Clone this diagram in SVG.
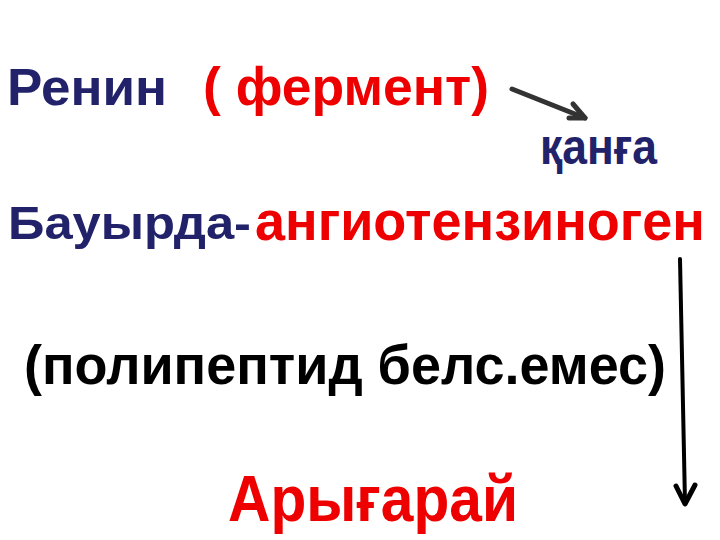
<svg xmlns="http://www.w3.org/2000/svg" width="720" height="540" viewBox="0 0 720 540">
<style>
text{font-family:"Liberation Sans",Arial,sans-serif;font-weight:bold}
.blue{fill:#22226a}
.red{fill:#ee0000}
.black{fill:#000}
.conn{fill:none;stroke-linecap:round;stroke-linejoin:round}
</style>
<rect width="720" height="540" fill="#fff"/>
<g id="renin">
<text class="blue" x="7" y="105" font-size="52" textLength="160" lengthAdjust="spacingAndGlyphs">Ренин</text>
</g>
<g id="ferment">
<text class="red" x="203" y="105" font-size="53" textLength="286" lengthAdjust="spacingAndGlyphs">( фермент)</text>
</g>
<g id="qanga">
<text class="blue" x="540" y="164" font-size="50" textLength="117" lengthAdjust="spacingAndGlyphs">қанға</text>
</g>
<g id="bauyrda">
<text class="blue" x="8" y="239" font-size="46" textLength="243" lengthAdjust="spacingAndGlyphs">Бауырда-</text>
</g>
<g id="angiotensinogen">
<text class="red" x="255" y="240" font-size="55" textLength="450" lengthAdjust="spacingAndGlyphs">ангиотензиноген</text>
</g>
<g id="polipeptid">
<text class="black" x="24" y="384" font-size="55" textLength="642" lengthAdjust="spacingAndGlyphs">(полипептид белс.емес)</text>
</g>
<g id="arygarai">
<text class="red" x="228" y="521" font-size="64" textLength="290" lengthAdjust="spacingAndGlyphs">Арығарай</text>
</g>
<g id="connectors">
<g stroke="#333" stroke-width="5" class="conn">
<path d="M512 89 L585 118"/>
<path d="M573 104 L585 118 L569 118"/>
</g>
<g stroke="#000" stroke-width="4" class="conn">
<path d="M680 259 L685 503"/>
<path d="M676 486 L685 504 L695 485" stroke-width="5"/>
</g>
</g>
</svg>
